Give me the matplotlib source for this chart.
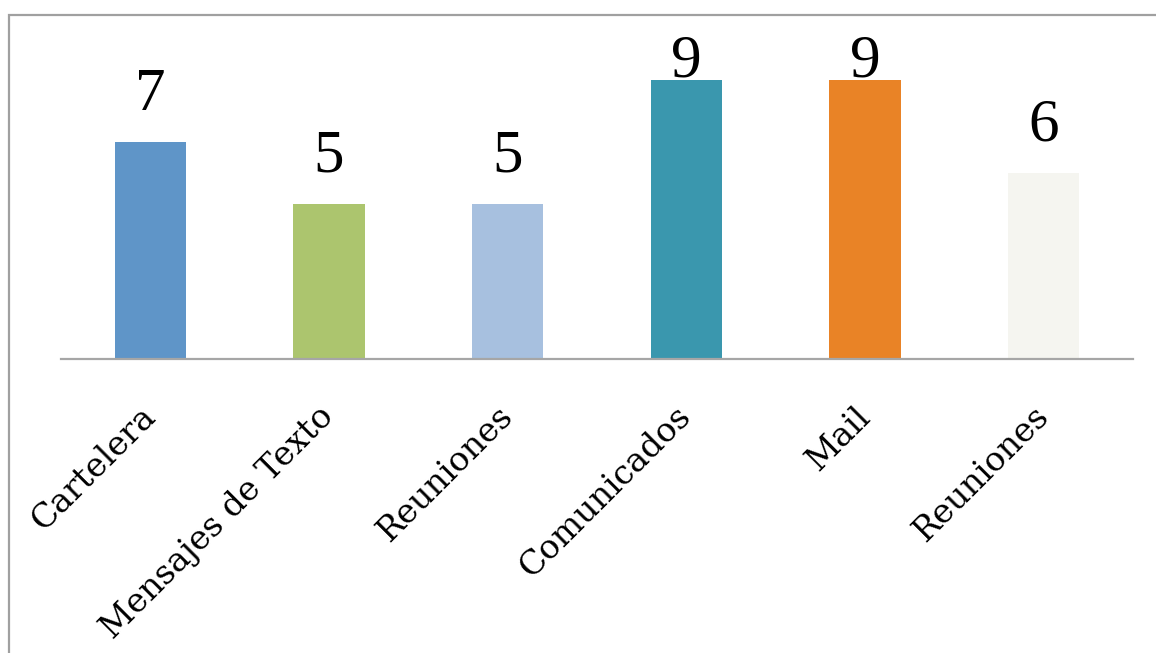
import matplotlib
matplotlib.use("Agg")
import matplotlib.pyplot as plt
from matplotlib.patches import Rectangle
import numpy as np

categories = ["Cartelera", "Mensajes de Texto", "Reuniones", "Comunicados", "Mail", "Reuniones"]
values = [7, 5, 5, 9, 9, 6]
colors = ["#5F95C8", "#ACC56E", "#A7C0DF", "#3A97AE", "#E98326", "#F5F5F0"]

W, H = 1156, 653
fig = plt.figure(figsize=(W / 100, H / 100), dpi=100)
ax = fig.add_axes([61 / W, 1 - 359 / H, (1133 - 61) / W, 310 / H])

x = np.arange(len(categories))
ax.bar(x, values, width=0.40, color=colors, zorder=2)
ax.set_xlim(-0.5, len(categories) - 0.5)
ax.set_ylim(0, 10)

# value labels (kept inside the plot area, as in the original)
label_y = np.minimum(np.array(values) + 1.52, 9.6)
for xi, v, ly in zip(x, values, label_y):
    ax.text(xi, ly, str(v), ha="center", va="center",
            fontsize=44, family="Liberation Serif", color="black")

for s in ["top", "right", "left"]:
    ax.spines[s].set_visible(False)
ax.spines["bottom"].set_color("#A6A6A6")
ax.spines["bottom"].set_linewidth(1.6)
ax.set_yticks([])
ax.set_xticks(x)
ax.set_xticklabels(categories, rotation=45, ha="right", va="center",
                   rotation_mode="anchor", fontsize=24, family="DejaVu Serif")
ax.tick_params(axis="x", length=0, pad=38)

# chart border
fig.patches.append(Rectangle((9 / W, -0.1), 1.2, 1 - 15 / H + 0.1,
                             transform=fig.transFigure, fill=False,
                             edgecolor="#A0A0A0", linewidth=1.6))

fig.savefig("out.png", dpi=100)
